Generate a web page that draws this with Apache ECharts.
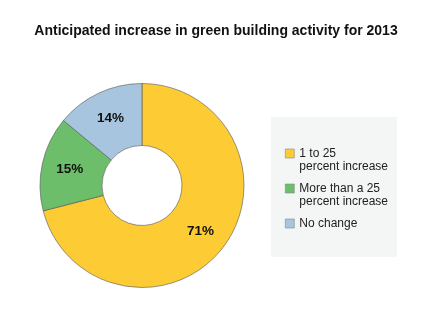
<!DOCTYPE html>
<html>
<head>
<meta charset="utf-8">
<script src="https://cdn.jsdelivr.net/npm/echarts@6/dist/echarts.min.js"></script>
<style>
html,body{margin:0;padding:0;background:#fff;}
#chart{width:432px;height:328px;}
</style>
</head>
<body>
<div id="chart"></div>
<script>
var titleText = 'Anticipated increase in green building activity for 2013';
var categories = ['1 to 25\npercent increase', 'More than a 25\npercent increase', 'No change'];
var values = [71, 15, 14];
var colors = ['#FDCB33', '#6DBE6A', '#A8C5E0'];

var chart = echarts.init(document.getElementById('chart'), null, {renderer: 'canvas'});
var font = '"Liberation Sans", Arial, Helvetica, sans-serif';

chart.setOption({
  animation: false,
  backgroundColor: '#ffffff',
  color: colors,
  title: {
    text: titleText,
    left: 'center',
    top: 24,
    padding: 0,
    textStyle: {fontFamily: font, fontSize: 14, fontWeight: 'bold', color: '#111'}
  },
  graphic: [{
    type: 'rect',
    z: -1,
    shape: {x: 271, y: 117, width: 126, height: 140},
    style: {fill: '#F4F5F5'}
  }],
  legend: {
    orient: 'vertical',
    left: 285,
    top: 134,
    padding: 0,
    itemWidth: 9,
    itemHeight: 9,
    itemGap: -4,
    icon: 'rect',
    data: categories,
    itemStyle: {borderColor: '#888', borderWidth: 0.6},
    formatter: function (name) {
      return name.indexOf('\n') >= 0 ? '\n' + name : '\n' + name + '\n';
    },
    textStyle: {
      fontFamily: font, fontSize: 12, color: '#222',
      lineHeight: 13
    }
  },
  series: [{
    type: 'pie',
    center: [142, 185.5],
    radius: [40, 102],
    startAngle: 90,
    clockwise: true,
    avoidLabelOverlap: false,
    itemStyle: {borderColor: '#555', borderWidth: 0.6},
    label: {
      show: true,
      position: 'inside',
      formatter: '{c}%',
      fontFamily: font,
      fontSize: 13.5,
      fontWeight: 'bold',
      color: '#111'
    },
    labelLine: {show: false},
    emphasis: {disabled: true},
    data: categories.map(function (c, i) { return {name: c, value: values[i]}; })
  }]
});
</script>
</body>
</html>
